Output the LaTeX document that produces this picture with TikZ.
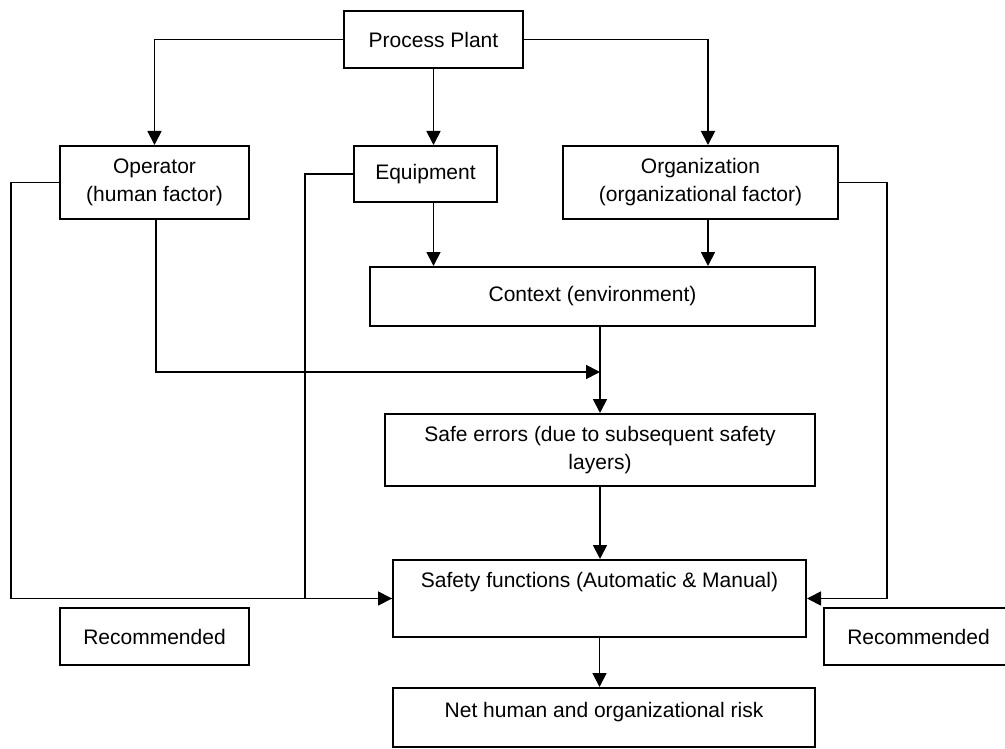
\documentclass[tikz,border=0pt]{standalone}
\usepackage{fontspec}
\setmainfont{Liberation Sans}
\usetikzlibrary{arrows.meta}
\tikzset{
  box/.style={draw=black, line width=2pt, rectangle, inner sep=0pt, align=center, font=\fontsize{21}{28}\selectfont},
  lbl/.style={inner sep=0pt, align=center, font=\fontsize{21}{28}\selectfont},
  conn/.style={draw=black, line width=1.8pt},
  arr/.style={conn, -{Triangle[length=14pt,width=14pt]}}
}
\begin{document}
\begin{tikzpicture}[x=1pt,y=-1pt]
\useasboundingbox (0,0) rectangle (1005,749);
\clip (0,0) rectangle (1005,749);
\fill[white] (0,0) rectangle (1005,749);
% boxes
\node[box, minimum width=179pt, minimum height=57pt] (pp) at (433.5,39.5) {Process Plant};
\node[box, minimum width=189pt, minimum height=73pt] (op) at (154.5,182.5) {Operator\\(human factor)};
\node[box, minimum width=143pt, minimum height=56pt] (eq) at (425.5,174) {Equipment};
\node[box, minimum width=275pt, minimum height=73pt] (org) at (700.5,182.5) {Organization\\(organizational factor)};
\node[box, minimum width=445pt, minimum height=59pt] (ctx) at (592.5,296.5) {Context (environment)};
\node[box, minimum width=430pt, minimum height=72pt] (se) at (600,450) {Safe errors (due to subsequent safety\\layers)};
\node[box, minimum width=413pt, minimum height=77pt] (sf) at (599.5,598.5) {Safety functions (Automatic \& Manual)\\\strut};
\node[box, minimum width=422pt, minimum height=59pt] (net) at (604,717.5) {};
\node[lbl] (nettxt) at (604,712) {Net human and organizational risk};
\node[box, minimum width=189pt, minimum height=57pt] (recl) at (154.5,636.5) {Recommended};
\node[box, minimum width=189pt, minimum height=57pt] (recr) at (918.5,636.5) {Recommended};
% junction where the operator path meets the context line
\coordinate (j) at (600,372);
% connectors
\draw[arr] (pp.west) -| (op.north);
\draw[arr] (pp.south) -- (pp.south |- eq.north);
\draw[arr] (pp.east) -| ([xshift=7.5pt]org.north);
\draw[arr] (eq.south -| pp.south) -- (ctx.north -| pp.south);
\draw[arr] ([xshift=7.5pt]org.south) -- ([xshift=7.5pt]org.south |- ctx.north);
\draw[arr] (ctx.south -| se.north) -- (se.north);
\draw[arr] ([xshift=1.5pt]op.south) |- (j);
\draw[arr] (se.south) -- (se.south |- sf.north);
\draw[arr] (sf.south) -- (sf.south |- net.north);
\draw[conn] (eq.west) -- ++(-48,0) |- (sf.west);
\draw[arr] (op.west) -- ++(-48,0) |- (sf.west);
\draw[arr] (org.east) -- ++(48,0) |- (sf.east);
\end{tikzpicture}
\end{document}
